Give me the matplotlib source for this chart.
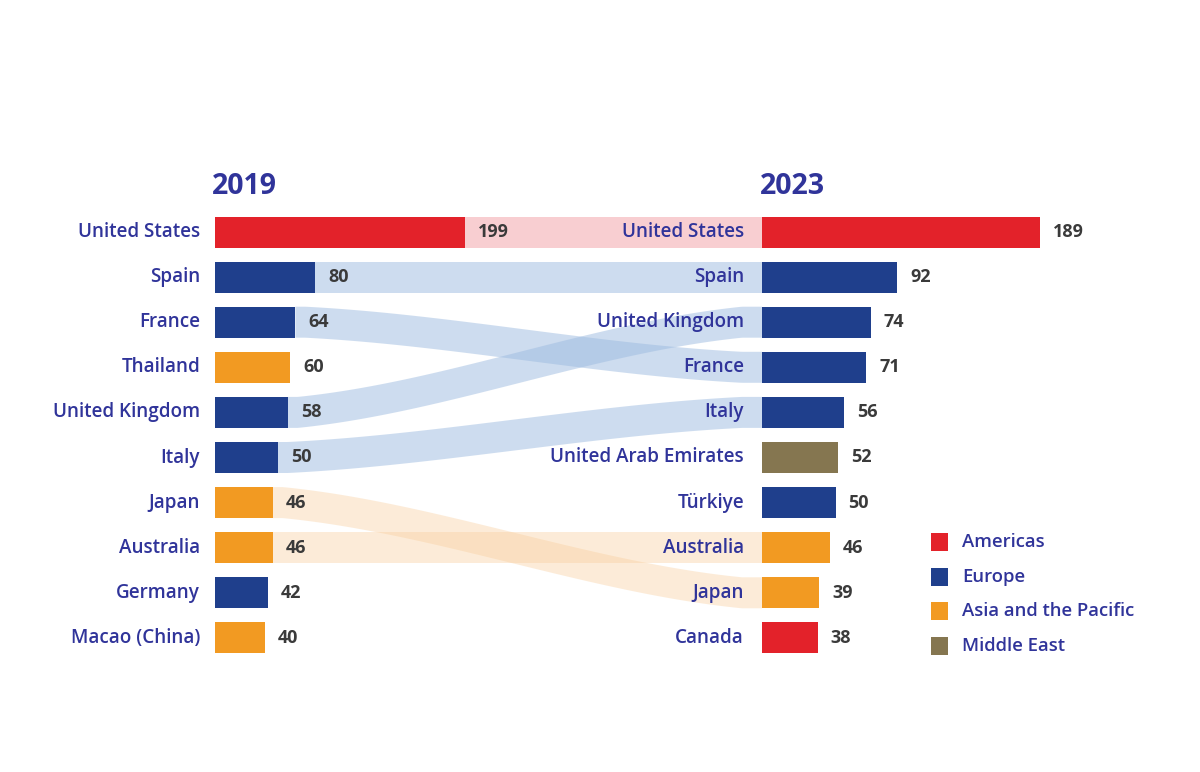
import matplotlib
matplotlib.use("Agg")
import matplotlib.pyplot as plt
import numpy as np
from matplotlib.patches import Polygon

plt.rcParams["font.family"] = ["Open Sans", "DejaVu Sans"]

# ---- data -----------------------------------------------------------------
countries_2019 = ["United States", "Spain", "France", "Thailand", "United Kingdom",
                  "Italy", "Japan", "Australia", "Germany", "Macao (China)"]
values_2019 = [199, 80, 64, 60, 58, 50, 46, 46, 42, 40]
regions_2019 = ["Americas", "Europe", "Europe", "Asia and the Pacific", "Europe",
                "Europe", "Asia and the Pacific", "Asia and the Pacific", "Europe",
                "Asia and the Pacific"]

countries_2023 = ["United States", "Spain", "United Kingdom", "France", "Italy",
                  "United Arab Emirates", "Türkiye", "Australia", "Japan", "Canada"]
values_2023 = [189, 92, 74, 71, 56, 52, 50, 46, 39, 38]
regions_2023 = ["Americas", "Europe", "Europe", "Europe", "Europe", "Middle East",
                "Europe", "Asia and the Pacific", "Asia and the Pacific", "Americas"]

legend_regions = ["Americas", "Europe", "Asia and the Pacific", "Middle East"]

# ---- style ----------------------------------------------------------------
REG_COL = {"Americas": "#e3222a", "Europe": "#1f3f8c",
           "Asia and the Pacific": "#f29a22", "Middle East": "#857650"}
RIB_COL = {"Americas": ("#f3a6ac", 0.55), "Europe": ("#9dbbe0", 0.5),
           "Asia and the Pacific": ("#f9cf9f", 0.4), "Middle East": ("#c9bd9a", 0.5)}
NAVY = "#30349a"
NUM = "#3a3a3a"

ROW0, ROWSTEP, BAR_H = 232, 45.1, 31
X_LEFT, SCALE_LEFT = 215, 1.256
X_RIGHT, SCALE_RIGHT = 762, 1.47

fig = plt.figure(figsize=(12, 7.72), dpi=100)
ax = fig.add_axes([0, 0, 1, 1])
ax.set_xlim(0, 1200)
ax.set_ylim(772, 0)
ax.axis("off")

rows = ROW0 + ROWSTEP * np.arange(10)

# ---- bars -----------------------------------------------------------------
ax.barh(rows, np.array(values_2019) * SCALE_LEFT, left=X_LEFT, height=BAR_H,
        color=[REG_COL[r] for r in regions_2019], zorder=3)
ax.barh(rows, np.array(values_2023) * SCALE_RIGHT, left=X_RIGHT, height=BAR_H,
        color=[REG_COL[r] for r in regions_2023], zorder=3)

for y, name, v in zip(rows, countries_2019, values_2019):
    ax.text(X_LEFT - 15, y, name, ha="right", va="center", fontsize=13.6,
            weight="semibold", color=NAVY, zorder=4)
    ax.text(X_LEFT + v * SCALE_LEFT + 13, y, str(v), ha="left", va="center",
            fontsize=13, weight="bold", color=NUM, zorder=4)

for y, name, v in zip(rows, countries_2023, values_2023):
    ax.text(X_RIGHT - 18, y, name, ha="right", va="center", fontsize=13.6,
            weight="semibold", color=NAVY, zorder=4)
    ax.text(X_RIGHT + v * SCALE_RIGHT + 13, y, str(v), ha="left", va="center",
            fontsize=13, weight="bold", color=NUM, zorder=4)

# ---- ribbons between years ------------------------------------------------
for i, name in enumerate(countries_2019):
    if name not in countries_2023:
        continue
    j = countries_2023.index(name)
    x0 = X_LEFT + values_2019[i] * SCALE_LEFT
    x1 = X_RIGHT
    y0, y1 = rows[i], rows[j]
    xs = np.linspace(x0, x1, 200)
    a, b = x0 + 10, x1 - 20
    t = np.clip((xs - a) / (b - a), 0, 1)
    s = 0.5 * t + 0.5 * t * t * (3 - 2 * t)
    yc = y0 + (y1 - y0) * s
    top = yc - BAR_H / 2
    bot = yc + BAR_H / 2
    pts = np.vstack([np.column_stack([xs, top]), np.column_stack([xs[::-1], bot[::-1]])])
    col, al = RIB_COL[regions_2019[i]]
    ax.add_patch(Polygon(pts, closed=True, fc=col, ec="none", alpha=al, zorder=1))

# ---- year headings --------------------------------------------------------
ax.text(X_LEFT - 3, 187, "2019", ha="left", va="center", fontsize=20.5,
        weight="bold", color=NAVY)
ax.text(X_RIGHT - 2, 187, "2023", ha="left", va="center", fontsize=20.5,
        weight="bold", color=NAVY)

# ---- legend ---------------------------------------------------------------
for k, reg in enumerate(legend_regions):
    y = 542 + 34.7 * k
    ax.barh(y, 17, left=931, height=18, color=REG_COL[reg], zorder=3)
    ax.text(962, y, reg, ha="left", va="center", fontsize=13.3,
            weight="semibold", color=NAVY)

fig.savefig("out.png", dpi=100, facecolor="white")
